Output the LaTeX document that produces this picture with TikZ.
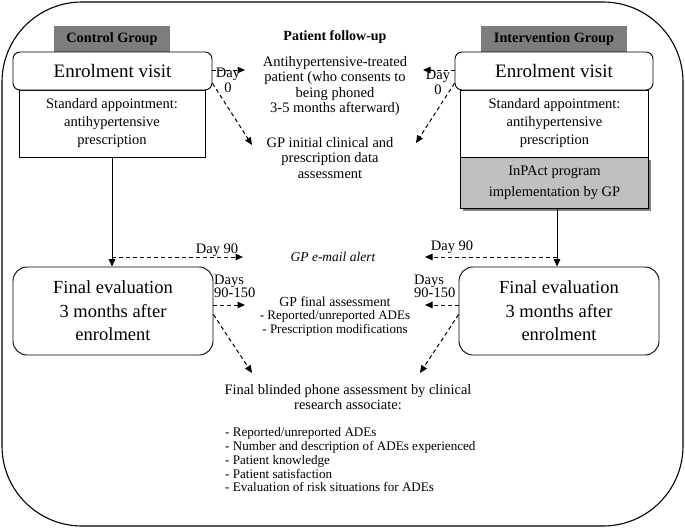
\documentclass[tikz,border=0pt]{standalone}
\usepackage{fontspec}
\setmainfont{Liberation Serif}
\usetikzlibrary{arrows.meta,shadows}
\definecolor{grpgray}{RGB}{125,125,125}
\definecolor{inpgray}{RGB}{192,192,192}
\definecolor{shdgray}{RGB}{130,130,130}
\begin{document}
\begin{tikzpicture}[x=1pt,y=-1pt,
  frame/.style={draw, line width=1.1pt, rounded corners=80pt, minimum width=681pt, minimum height=524pt, inner sep=0pt},
  grp/.style={fill=grpgray, draw=none, minimum height=26pt, inner sep=0pt, font=\fontsize{14.3}{16}\selectfont\bfseries},
  enr/.style={draw, line width=0.9pt, rounded corners=7pt, fill=white, minimum height=38pt, inner sep=0pt, font=\fontsize{19}{22}\selectfont},
  std/.style={draw, line width=0.9pt, fill=white, minimum height=67pt, align=center, inner sep=0pt, font=\fontsize{14.5}{18}\selectfont},
  inpbox/.style={draw, line width=0.9pt, fill=inpgray, minimum height=51pt, align=center, inner sep=0pt, font=\fontsize{14.5}{21}\selectfont,
     drop shadow={shadow xshift=2.5pt, shadow yshift=-2.5pt, fill=shdgray, opacity=1}},
  fin/.style={draw, line width=0.9pt, rounded corners=14pt, fill=white, minimum width=200pt, minimum height=88pt, align=center, inner sep=0pt, font=\fontsize{18.5}{23.5}\selectfont},
  txt/.style={align=center, inner sep=0pt, font=\fontsize{14.5}{15.4}\selectfont},
  small/.style={align=center, inner sep=0pt, font=\fontsize{13}{13.5}\selectfont},
  lbl/.style={align=left, inner sep=0pt, font=\fontsize{14.5}{15.5}\selectfont},
  dasharrow/.style={line width=1pt, dash pattern=on 4pt off 3pt, -{Triangle[length=7.5pt,width=6.5pt]}},
  solidarrow/.style={line width=1pt, -{Triangle[length=7.5pt,width=6.5pt]}}
]
\useasboundingbox (0,0) rectangle (685,528);
\node[frame] (frm) at (342.5,264) {};

% ---- left column
\node[grp, minimum width=116pt] (cg) at (112,39) {Control Group};
\node[std, minimum width=186pt] (stdL) at (112,123.5) {Standard appointment:\\antihypertensive\\prescription};
\node[enr, minimum width=199pt] (enrL) at (112.5,71) {Enrolment visit};
\node[fin] (finL) at (113,311) {Final evaluation\\3 months after\\enrolment};

% ---- right column
\node[grp, minimum width=146pt] (ig) at (554,39) {Intervention Group};
\node[inpbox, minimum width=188pt] (inp) at (554.5,182.5) {InPAct program\\implementation by GP};
\node[std, minimum width=188pt] (stdR) at (554.5,123.5) {Standard appointment:\\antihypertensive\\prescription};
\node[enr, minimum width=198pt] (enrR) at (554,71) {Enrolment visit};
\node[fin] (finR) at (559,311) {Final evaluation\\3 months after\\enrolment};

% ---- centre texts
\node[txt, font=\fontsize{14}{16}\selectfont\bfseries] (pf) at (335,37) {Patient follow-up};
\node[txt] (ah) at (335,86) {Antihypertensive-treated\\patient (who consents to\\being phoned\\3-5 months afterward)};
\node[txt] (gpi) at (330,158) {GP initial clinical and\\prescription data\\assessment};
\node[txt, font=\fontsize{13.5}{15}\selectfont\itshape] (alert) at (333,257) {GP e-mail alert};
\node[txt, font=\fontsize{13.8}{15}\selectfont] (gpf) at (335,302) {GP final assessment};
\node[small] (gpf2) at (335,316.5) {- Reported/unreported ADEs};
\node[small] (gpf3) at (335,330) {- Prescription modifications};
\node[txt, font=\fontsize{14.4}{14.5}\selectfont] (fb) at (348,397) {Final blinded phone assessment by clinical\\research associate:};
\node[align=left, inner sep=0pt, font=\fontsize{13.1}{13.75}\selectfont, anchor=west] (lst) at (225,460) {- Reported/unreported ADEs\\- Number and description of ADEs experienced\\- Patient knowledge\\- Patient satisfaction\\- Evaluation of risk situations for ADEs};

% ---- labels
\node[lbl, align=center] (d0L) at (228,80.5) {Day\\0};
\node[lbl, align=center] (d0R) at (438,82.5) {Day\\0};
\node[lbl] (d90L) at (217,250) {Day 90};
\node[lbl] (d90R) at (452,247) {Day 90};
\node[lbl, anchor=west, font=\fontsize{14.5}{13.5}\selectfont] (dsL) at (214,286.5) {Days\\90-150};
\node[lbl, anchor=west, font=\fontsize{14.5}{13.5}\selectfont] (dsR) at (414,286.5) {Days\\90-150};

% ---- free ends
\coordinate (aL1) at (245,70);
\coordinate (aL2) at (252,145);
\coordinate (aR1) at (423,70);
\coordinate (aR2) at (416,143);
\coordinate (vL) at (112,257);
\coordinate (vR) at (557,257);
\coordinate (eL) at (243,257);
\coordinate (eR) at (425,257);
\coordinate (fL1) at (245,305);
\coordinate (fR1) at (425,305);
\coordinate (fL2) at (252,373);
\coordinate (fR2) at (420,373);

% ---- connectors
\draw[dasharrow] (enrL.east |- aL1) -- (aL1);
\draw[dasharrow] (enrL.-7) -- (aL2);
\draw[dasharrow] (enrR.west |- aR1) -- (aR1);
\draw[dasharrow] (enrR.187) -- (aR2);

\draw[solidarrow] (stdL.south) -- (stdL.south |- finL.north);
\draw[solidarrow] (inp.south -| vR) -- (vR |- finR.north);
\draw[dasharrow] (vL) -- (eL);
\draw[dasharrow] (vR) -- (eR);

\draw[dasharrow] (finL.east |- fL1) -- (fL1);
\draw[dasharrow] (finL.-2) -- (fL2);
\draw[dasharrow] (finR.west |- fR1) -- (fR1);
\draw[dasharrow] (finR.182) -- (fR2);
\end{tikzpicture}
\end{document}
